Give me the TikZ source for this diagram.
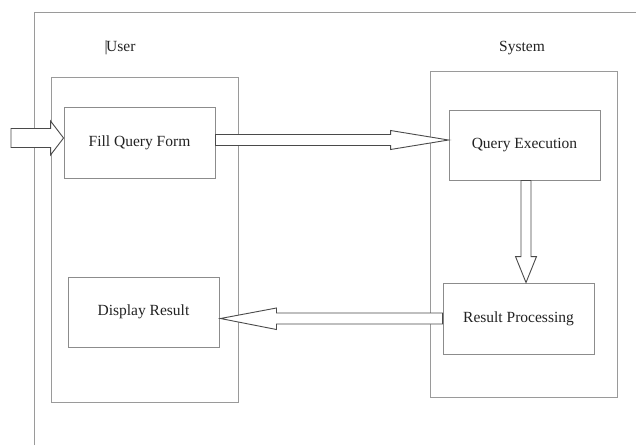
\documentclass[tikz,border=0pt]{standalone}
\usepackage{fontspec}
\setmainfont{Liberation Serif}
\usetikzlibrary{calc}
\definecolor{framegray}{HTML}{9A9A9A}
\definecolor{boxgray}{HTML}{8C8C8C}
\definecolor{arrowgray}{HTML}{4A4A4A}
\definecolor{txt}{HTML}{222222}
\tikzset{
  lane/.style={draw=framegray, line width=0.9pt, minimum width=187pt, inner sep=0pt},
  stepbox/.style={draw=boxgray, line width=0.9pt, fill=white, minimum width=151pt, minimum height=70pt, inner sep=0pt, text=txt, font=\fontsize{15.5}{18}\selectfont},
  lanelabel/.style={text=txt, font=\fontsize{15.5}{18}\selectfont, inner sep=0pt},
  barrow/.style={draw=arrowgray, line width=0.9pt, fill=white, line join=miter},
}
\begin{document}
\begin{tikzpicture}[x=1pt,y=-1pt]
\useasboundingbox (0,0) rectangle (636,445);
% outer frame (partial)
\coordinate (fbl) at (34,445);
\coordinate (ftl) at (34,12);
\coordinate (ftr) at (636,12);
\draw[framegray, line width=0.9pt] (fbl) -- (ftl) -- (ftr);
% lanes
\node[lane, minimum height=325pt] (user) at (144.5,239.5) {};
\node[lane, minimum height=326pt] (system) at (523.5,234) {};
\node[lanelabel] (userlbl) at (120,48) {\textbar\kern-1.5pt User};
\node[lanelabel] (syslbl) at (522,48) {System};
% step boxes
\node[stepbox, minimum height=71pt] (fill) at (139.5,142.5) {Fill Query Form};
\node[stepbox] (qe) at (524.5,145) {Query Execution};
\node[stepbox, minimum height=71pt] (rp) at (518.5,318.5) {Result Processing};
\node[stepbox] (dr) at (143.5,312) {Display Result};
% input arrow
\coordinate (int) at (11,138);
\coordinate (inh) at ($(fill.west)+(0,-4.5)$);
\draw[barrow] ($(int)+(0,-9.5)$) -- ($(inh)+(-13,-9.5)$) -- ($(inh)+(-13,-17)$) -- (inh)
  -- ($(inh)+(-13,17)$) -- ($(inh)+(-13,9.5)$) -- ($(int)+(0,9.5)$) -- cycle;
% arrow fill -> qe
\coordinate (a1h) at ($(qe.west)+(0,-5)$);
\coordinate (a1t) at (fill.east |- a1h);
\draw[barrow] ($(a1t)+(0,-5.5)$) -- ($(a1h)+(-58,-5.5)$) -- ($(a1h)+(-58,-9.5)$) -- (a1h)
  -- ($(a1h)+(-58,9.5)$) -- ($(a1h)+(-58,5.5)$) -- ($(a1t)+(0,5.5)$) -- cycle;
% arrow qe -> rp
\coordinate (a2h) at ($(rp.north)+(7.5,0)$);
\coordinate (a2t) at (a2h |- qe.south);
\draw[barrow] ($(a2t)+(-5,0)$) -- ($(a2h)+(-5,-26)$) -- ($(a2h)+(-10.5,-26)$) -- (a2h)
  -- ($(a2h)+(10.5,-26)$) -- ($(a2h)+(5,-26)$) -- ($(a2t)+(5,0)$) -- cycle;
% arrow rp -> dr
\coordinate (a3h) at ($(dr.east)+(1,6.5)$);
\coordinate (a3t) at (rp.west |- a3h);
\draw[barrow] ($(a3t)+(0,-5.5)$) -- ($(a3h)+(56,-5.5)$) -- ($(a3h)+(56,-10.5)$) -- (a3h)
  -- ($(a3h)+(56,11)$) -- ($(a3h)+(56,5.5)$) -- ($(a3t)+(0,5.5)$) -- cycle;
\end{tikzpicture}
\end{document}
